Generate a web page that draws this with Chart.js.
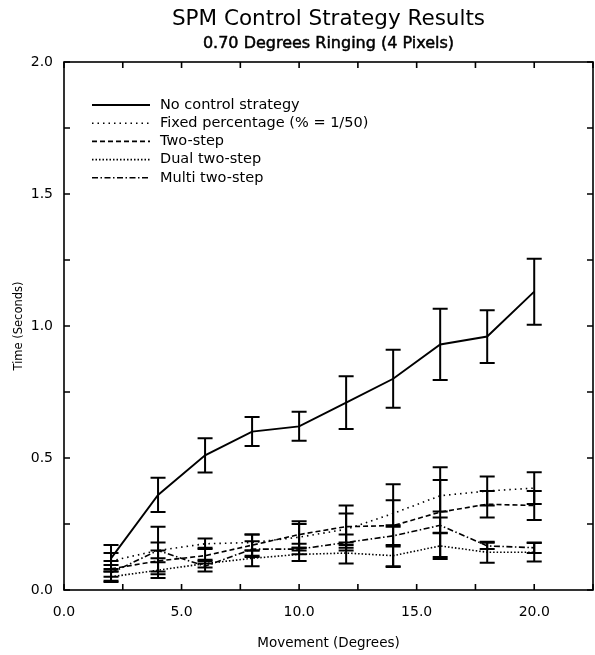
<!DOCTYPE html>
<html>
<head>
<meta charset="utf-8">
<script src="https://cdn.jsdelivr.net/npm/chart.js@4.4.1/dist/chart.umd.min.js"></script>
<style>
  html, body { margin: 0; padding: 0; background: #fff; }
</style>
</head>
<body>
<canvas id="chart" width="595" height="655"></canvas>
<script>
// Movement in degrees (x) and times in seconds (y)
const degrees = [2, 4, 6, 8, 10, 12, 14, 16, 18, 20];

const noControl    = [0.12, 0.36, 0.51, 0.60, 0.62, 0.71, 0.80, 0.93, 0.96, 1.13];
const noControlErr = [0.05, 0.065, 0.065, 0.055, 0.055, 0.10, 0.11, 0.135, 0.10, 0.125];

const fixedPct    = [0.11, 0.15, 0.175, 0.18, 0.20, 0.23, 0.29, 0.357, 0.375, 0.386];
const fixedPctErr = [0.03, 0.03, 0.02, 0.03, 0.05, 0.06, 0.05, 0.06, 0.055, 0.06];

const twoStep    = [0.08, 0.11, 0.13, 0.17, 0.21, 0.24, 0.244, 0.295, 0.325, 0.32];
const twoStepErr = [0.03, 0.04, 0.03, 0.04, 0.05, 0.08, 0.157, 0.17, 0.05, 0.055];

const dualTwoStep    = [0.05, 0.075, 0.10, 0.12, 0.135, 0.14, 0.13, 0.167, 0.143, 0.143];
const dualTwoStepErr = [0.02, 0.03, 0.015, 0.03, 0.025, 0.04, 0.04, 0.05, 0.04, 0.035];

const multiTwoStep    = [0.065, 0.15, 0.09, 0.155, 0.155, 0.18, 0.205, 0.245, 0.167, 0.16];
const multiTwoStepErr = [0.03, 0.09, 0.02, 0.03, 0.02, 0.03, 0.04, 0.03, 0.012, 0.02];

const xTickLabels = ['0.0', '5.0', '10.0', '15.0', '20.0'];
const yTickLabels = ['0.0', '0.5', '1.0', '1.5', '2.0'];

const FONT = 'DejaVu Sans';

function toPoints(ys) {
  return degrees.map((d, i) => ({ x: d, y: ys[i] }));
}

function makeSet(label, ys, errs, dash, width) {
  return {
    label: label,
    data: toPoints(ys),
    errorBars: errs,
    borderColor: '#000',
    borderWidth: width,
    borderDash: dash,
    pointRadius: 0,
    tension: 0,
    fill: false
  };
}

// vertical error bars with caps, positioned through the chart scales
const errorBarPlugin = {
  id: 'errorBars',
  afterDatasetsDraw(chart) {
    const ctx = chart.ctx;
    const xs = chart.scales.x, ys = chart.scales.y;
    ctx.save();
    ctx.strokeStyle = '#000';
    ctx.lineWidth = 2;
    ctx.setLineDash([]);
    chart.data.datasets.forEach(ds => {
      ds.data.forEach((p, i) => {
        const e = ds.errorBars[i];
        const px = xs.getPixelForValue(p.x);
        const top = ys.getPixelForValue(p.y + e);
        const bot = ys.getPixelForValue(p.y - e);
        ctx.beginPath();
        ctx.moveTo(px, top); ctx.lineTo(px, bot);
        ctx.moveTo(px - 7.5, top); ctx.lineTo(px + 7.5, top);
        ctx.moveTo(px - 7.5, bot); ctx.lineTo(px + 7.5, bot);
        ctx.stroke();
      });
    });
    ctx.restore();
  }
};

// frame, inward tick marks, titles and the legend box
const framePlugin = {
  id: 'frame',
  afterDraw(chart) {
    const ctx = chart.ctx;
    const a = chart.chartArea;
    const xs = chart.scales.x, ys = chart.scales.y;
    ctx.save();
    ctx.strokeStyle = '#000';
    ctx.lineWidth = 1.6;
    ctx.setLineDash([]);
    ctx.strokeRect(a.left, a.top, a.right - a.left, a.bottom - a.top);
    ctx.beginPath();
    xs.ticks.forEach(t => {
      const px = xs.getPixelForValue(t.value);
      ctx.moveTo(px, a.bottom); ctx.lineTo(px, a.bottom - 6);
      ctx.moveTo(px, a.top); ctx.lineTo(px, a.top + 6);
    });
    ys.ticks.forEach(t => {
      const py = ys.getPixelForValue(t.value);
      ctx.moveTo(a.left, py); ctx.lineTo(a.left + 6, py);
      ctx.moveTo(a.right, py); ctx.lineTo(a.right - 6, py);
    });
    ctx.stroke();

    // titles, centred over the plot box
    const cx = (a.left + a.right) / 2;
    ctx.fillStyle = '#000';
    ctx.textAlign = 'center';
    ctx.textBaseline = 'middle';
    ctx.font = '21.5px "' + FONT + '"';
    ctx.fillText('SPM Control Strategy Results', cx, 19);
    ctx.font = '16px "' + FONT + '"';
    ctx.lineWidth = 0.5;
    ctx.fillText('0.70 Degrees Ringing (4 Pixels)', cx, 44);
    ctx.strokeText('0.70 Degrees Ringing (4 Pixels)', cx, 44);

    // legend
    ctx.font = '14.5px "' + FONT + '"';
    ctx.textAlign = 'left';
    chart.data.datasets.forEach((ds, i) => {
      const y = 105 + i * 18.2;
      ctx.lineWidth = ds.borderWidth;
      ctx.setLineDash(ds.borderDash || []);
      ctx.beginPath();
      ctx.moveTo(92, y); ctx.lineTo(150, y);
      ctx.stroke();
      ctx.fillText(ds.label, 160, y);
    });
    ctx.restore();
  }
};

new Chart(document.getElementById('chart'), {
  type: 'line',
  data: {
    datasets: [
      makeSet('No control strategy', noControl, noControlErr, [], 1.9),
      makeSet('Fixed percentage (% = 1/50)', fixedPct, fixedPctErr, [1.5, 4], 1.6),
      makeSet('Two-step', twoStep, twoStepErr, [5, 3], 1.6),
      makeSet('Dual two-step', dualTwoStep, dualTwoStepErr, [1.5, 2], 1.6),
      makeSet('Multi two-step', multiTwoStep, multiTwoStepErr, [6, 2.5, 1.5, 2.5], 1.6)
    ]
  },
  options: {
    responsive: false,
    devicePixelRatio: 1,
    animation: false,
    layout: { padding: { top: 62, right: 2, left: 0, bottom: 0 } },
    plugins: {
      legend: { display: false },
      tooltip: { enabled: false }
    },
    scales: {
      x: {
        type: 'linear',
        min: 0,
        max: 22.5,
        grid: { display: false, drawTicks: false },
        border: { display: false },
        ticks: {
          stepSize: 2.5,
          autoSkip: false,
          maxRotation: 0,
          padding: 14,
          color: '#000',
          font: { family: FONT, size: 14 },
          callback: v => xTickLabels.find(l => parseFloat(l) === v) || ''
        },
        title: {
          display: true,
          text: 'Movement (Degrees)',
          color: '#000',
          font: { family: FONT, size: 13.5 },
          padding: { top: 10, bottom: 3 }
        },
        afterFit: scale => {
          scale.height = 65;
          scale.paddingLeft = 0;
          scale.paddingRight = 0;
        }
      },
      y: {
        min: 0,
        max: 2,
        grid: { display: false, drawTicks: false },
        border: { display: false },
        ticks: {
          stepSize: 0.25,
          autoSkip: false,
          padding: 11,
          color: '#000',
          font: { family: FONT, size: 14 },
          callback: v => yTickLabels.find(l => parseFloat(l) === v) || ''
        },
        title: {
          display: true,
          text: 'Time (Seconds)',
          color: '#000',
          font: { family: FONT, size: 11.5 },
          padding: { top: 12, bottom: 4 }
        },
        afterFit: scale => {
          scale.width = 64;
          scale.paddingTop = 0;
          scale.paddingBottom = 0;
        }
      }
    }
  },
  plugins: [errorBarPlugin, framePlugin]
});
</script>
</body>
</html>
